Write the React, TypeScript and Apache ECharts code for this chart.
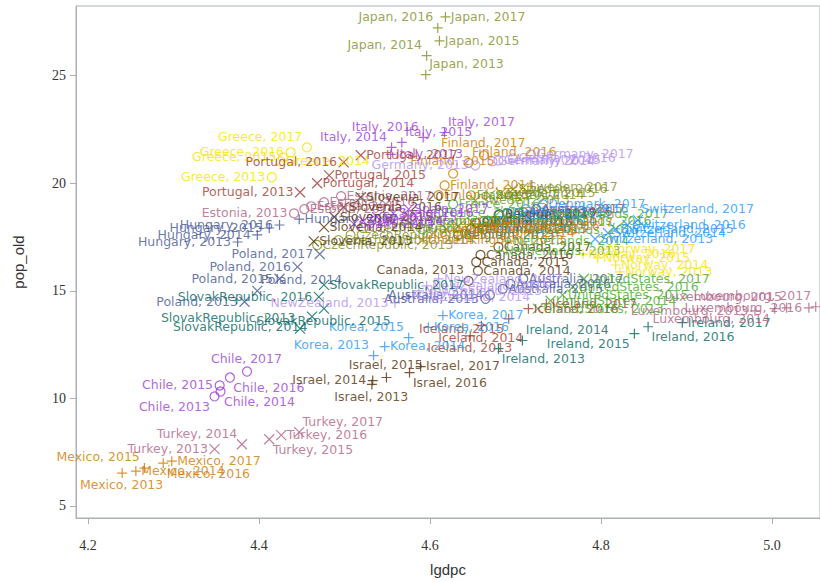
import React, { useEffect, useRef } from "react";
import * as echarts from "echarts";

// Survey years shown for every country
const years = [2013, 2014, 2015, 2016, 2017];

// Countries in the order their group styles are assigned
const countries = [
  "Australia", "Austria", "Belgium", "Canada", "Chile", "CzechRepublic",
  "Denmark", "Estonia", "Finland", "France", "Germany", "Greece",
  "Hungary", "Iceland", "Ireland", "Israel", "Italy", "Japan",
  "Korea", "Luxembourg", "Mexico", "Netherlands", "NewZealand", "Norway",
  "Poland", "Portugal", "SlovakRepublic", "Slovenia", "Spain", "Sweden",
  "Switzerland", "Turkey", "UnitedKingdom", "UnitedStates",
];

// log10 GDP per capita, one row per country (2013..2017)
const lgdpc: number[][] = [
  [4.665, 4.670, 4.685, 4.694, 4.709],
  [4.663, 4.680, 4.690, 4.709, 4.724],
  [4.633, 4.648, 4.654, 4.667, 4.681],
  [4.645, 4.656, 4.654, 4.659, 4.680],
  [4.348, 4.355, 4.354, 4.366, 4.386],
  [4.468, 4.493, 4.507, 4.522, 4.546],
  [4.663, 4.674, 4.691, 4.712, 4.732],
  [4.441, 4.453, 4.461, 4.476, 4.496],
  [4.610, 4.617, 4.627, 4.645, 4.663],
  [4.591, 4.600, 4.610, 4.627, 4.648],
  [4.653, 4.673, 4.680, 4.697, 4.718],
  [4.415, 4.425, 4.428, 4.437, 4.456],
  [4.375, 4.398, 4.412, 4.424, 4.447],
  [4.647, 4.660, 4.692, 4.715, 4.736],
  [4.680, 4.708, 4.839, 4.855, 4.895],
  [4.532, 4.533, 4.549, 4.576, 4.589],
  [4.554, 4.555, 4.567, 4.592, 4.617],
  [4.595, 4.596, 4.611, 4.609, 4.618],
  [4.534, 4.547, 4.575, 4.598, 4.615],
  [4.980, 5.003, 5.017, 5.043, 5.051],
  [4.240, 4.256, 4.266, 4.288, 4.298],
  [4.681, 4.691, 4.703, 4.717, 4.737],
  [4.559, 4.573, 4.587, 4.596, 4.610],
  [4.822, 4.817, 4.796, 4.779, 4.802],
  [4.383, 4.398, 4.424, 4.445, 4.471],
  [4.448, 4.468, 4.482, 4.499, 4.519],
  [4.448, 4.462, 4.476, 4.470, 4.476],
  [4.464, 4.476, 4.488, 4.499, 4.519],
  [4.511, 4.522, 4.538, 4.557, 4.575],
  [4.653, 4.670, 4.683, 4.697, 4.709],
  [4.793, 4.808, 4.817, 4.831, 4.843],
  [4.348, 4.380, 4.412, 4.426, 4.447],
  [4.591, 4.604, 4.619, 4.633, 4.649],
  [4.726, 4.741, 4.755, 4.767, 4.780],
];

// Share of population aged 65 and over (%), same layout as lgdpc
const popOld: number[][] = [
  [14.63, 14.81, 15.09, 15.32, 15.56],
  [18.24, 18.52, 18.61, 18.66, 18.80],
  [17.60, 17.87, 18.15, 18.24, 18.56],
  [15.46, 15.93, 16.34, 16.67, 17.04],
  [10.09, 10.32, 10.60, 10.97, 11.25],
  [17.13, 17.36, 17.60, 17.92, 18.24],
  [17.87, 18.24, 18.61, 18.80, 19.03],
  [18.60, 18.80, 18.93, 19.12, 19.40],
  [19.45, 19.90, 20.45, 20.95, 21.30],
  [17.87, 18.24, 18.61, 19.03, 19.44],
  [20.83, 21.02, 21.06, 21.16, 21.34],
  [20.28, 21.02, 21.20, 21.44, 21.67],
  [17.27, 17.60, 17.92, 18.06, 18.33],
  [12.91, 13.38, 13.70, 14.17, 14.40],
  [12.31, 12.69, 13.01, 13.33, 13.52],
  [10.65, 10.83, 10.97, 11.20, 11.48],
  [21.34, 21.67, 21.90, 22.13, 22.36],
  [25.05, 25.93, 26.62, 27.22, 27.73],
  [11.99, 12.41, 12.82, 13.30, 13.85],
  [14.07, 14.17, 14.21, 14.21, 14.26],
  [6.53, 6.62, 6.76, 6.99, 7.08],
  [16.85, 17.31, 17.82, 18.24, 18.56],
  [14.44, 14.72, 15.00, 15.23, 15.56],
  [15.88, 16.20, 16.53, 16.71, 16.94],
  [14.49, 15.00, 15.56, 16.11, 16.71],
  [19.58, 20.00, 20.37, 20.97, 21.30],
  [13.24, 13.80, 14.17, 14.72, 15.28],
  [17.30, 17.96, 18.43, 18.89, 19.35],
  [18.10, 18.24, 18.43, 18.60, 18.80],
  [19.20, 19.44, 19.54, 19.72, 19.80],
  [17.41, 17.69, 17.87, 18.06, 18.29],
  [7.64, 7.87, 8.10, 8.29, 8.43],
  [17.36, 17.68, 17.87, 18.00, 18.19],
  [14.17, 14.54, 14.81, 15.19, 15.56],
];

const xTicks = [4.2, 4.4, 4.6, 4.8, 5.0];
const yTicks = [5, 10, 15, 20, 25];

// Group colours, cycled every twelve countries
const palette = [
  "#445694", "#A23A2E", "#01665E", "#543005", "#9D3CDB", "#7F8E1F",
  "#2597FA", "#B26084", "#D17800", "#47A82A", "#B38EF3", "#F9E300",
];

const PLUS = "path://M5,0L5,10M0,5L10,5";
const CROSS = "path://M0,0L10,10M10,0L0,10";

// Which side of its marker a data label sits on (default: right)
const labelSide: Record<string, string> = {
  "Japan, 2013": "tr", "Japan, 2014": "tl", "Japan, 2015": "r", "Japan, 2016": "tl", "Japan, 2017": "r",
  "Italy, 2013": "r", "Italy, 2014": "tl", "Italy, 2015": "tr", "Italy, 2016": "tl", "Italy, 2017": "tr",
  "Greece, 2013": "l", "Greece, 2014": "r", "Greece, 2015": "l", "Greece, 2016": "l", "Greece, 2017": "tl",
  "Mexico, 2013": "b", "Mexico, 2014": "r", "Mexico, 2015": "tl", "Mexico, 2016": "br", "Mexico, 2017": "r",
  "Turkey, 2013": "l", "Turkey, 2014": "tl", "Turkey, 2015": "br", "Turkey, 2016": "r", "Turkey, 2017": "tr",
  "Chile, 2013": "bl", "Chile, 2014": "br", "Chile, 2015": "l", "Chile, 2016": "br", "Chile, 2017": "t",
  "Israel, 2013": "b", "Israel, 2014": "l", "Israel, 2015": "t", "Israel, 2016": "br", "Israel, 2017": "r",
  "Korea, 2013": "tl", "Korea, 2014": "r", "Korea, 2015": "tl", "Korea, 2016": "r", "Korea, 2017": "r",
  "Iceland, 2013": "b", "Iceland, 2014": "b", "Iceland, 2015": "bl", "Iceland, 2016": "r", "Iceland, 2017": "r",
  "Ireland, 2013": "br", "Ireland, 2014": "tr", "Ireland, 2015": "bl", "Ireland, 2016": "br", "Ireland, 2017": "r",
  "Luxembourg, 2013": "l", "Luxembourg, 2014": "bl", "Luxembourg, 2015": "tl", "Luxembourg, 2016": "l", "Luxembourg, 2017": "tl",
  "Switzerland, 2017": "tr",
  "Poland, 2013": "l", "Poland, 2014": "tr", "Poland, 2015": "l", "Poland, 2016": "l", "Poland, 2017": "l",
  "SlovakRepublic, 2013": "tl", "SlovakRepublic, 2014": "bl", "SlovakRepublic, 2015": "b", "SlovakRepublic, 2016": "l",
  "Hungary, 2013": "l", "Hungary, 2014": "l", "Hungary, 2015": "l", "Hungary, 2016": "l",
  "Estonia, 2013": "l", "Portugal, 2013": "l", "Portugal, 2016": "l",
  "Germany, 2013": "l", "Canada, 2013": "tl", "Australia, 2013": "l", "Australia, 2014": "l",
  "NewZealand, 2013": "l", "Finland, 2017": "t", "Finland, 2016": "tr", "Finland, 2015": "t",
};

function placement(side: string, size: number) {
  const c = size / 2;
  const d = 6;
  switch (side) {
    case "l": return { position: [c - d, c], align: "right", verticalAlign: "middle" };
    case "t": return { position: [c, c - d], align: "center", verticalAlign: "bottom" };
    case "b": return { position: [c, c + d], align: "center", verticalAlign: "top" };
    case "tr": return { position: [c + 4, c - 4], align: "left", verticalAlign: "bottom" };
    case "tl": return { position: [c - 4, c - 4], align: "right", verticalAlign: "bottom" };
    case "br": return { position: [c + 4, c + 4], align: "left", verticalAlign: "top" };
    case "bl": return { position: [c - 4, c + 4], align: "right", verticalAlign: "top" };
    default: return { position: [c + d, c], align: "left", verticalAlign: "middle" };
  }
}

export default function App() {
  const ref = useRef<HTMLDivElement>(null);

  useEffect(() => {
    if (!ref.current) return;
    const chart = echarts.init(ref.current, undefined, { renderer: "svg" });

    const series = countries.map((country, i) => {
      const color = palette[i % 12];
      const shape = i < 12 ? "circle" : i < 24 ? PLUS : CROSS;
      const size = i < 12 ? 9 : 10;
      return {
        type: "scatter",
        name: country,
        symbol: shape,
        symbolSize: size,
        itemStyle: { color: "rgba(0,0,0,0)", borderColor: color, borderWidth: 1.2 },
        label: {
          show: true,
          formatter: "{b}",
          color,
          fontFamily: "DejaVu Sans",
          fontSize: 12.5,
        },
        emphasis: { disabled: true },
        data: years.map((yr, j) => {
          const name = `${country}, ${yr}`;
          return {
            name,
            value: [lgdpc[i][j], popOld[i][j]],
            label: placement(labelSide[name] || "r", size),
          };
        }),
      };
    });

    chart.setOption({
      animation: false,
      grid: {
        left: 76,
        top: 6,
        right: -3,
        bottom: 62,
        show: true,
        borderColor: "#aab0b8",
        borderWidth: 1,
      },
      xAxis: {
        type: "value",
        min: 4.186,
        max: 5.056,
        name: "lgdpc",
        nameLocation: "middle",
        nameGap: 44,
        nameTextStyle: { fontFamily: "Liberation Sans", fontSize: 15, color: "#333" },
        axisLine: { show: true, lineStyle: { color: "#aab0b8" } },
        axisTick: { show: true, length: 6, customValues: xTicks, lineStyle: { color: "#aab0b8" } },
        axisLabel: {
          customValues: xTicks,
          formatter: (v: number) => v.toFixed(1),
          fontFamily: "Liberation Sans Narrow",
          fontSize: 14,
          color: "#333",
          margin: 20,
        },
        splitLine: { show: false },
      },
      yAxis: {
        type: "value",
        min: 4.44,
        max: 28.24,
        name: "pop_old",
        nameLocation: "middle",
        nameGap: 50,
        nameTextStyle: { fontFamily: "Liberation Sans", fontSize: 15, color: "#333" },
        axisLine: { show: true, lineStyle: { color: "#aab0b8" } },
        axisTick: { show: true, length: 6, customValues: yTicks, lineStyle: { color: "#aab0b8" } },
        axisLabel: {
          customValues: yTicks,
          formatter: (v: number) => String(v),
          fontFamily: "Liberation Sans Narrow",
          fontSize: 14,
          color: "#333",
          margin: 10,
        },
        splitLine: { show: false },
      },
      series,
    });

    return () => chart.dispose();
  }, []);

  return (
    <div
      ref={ref}
      style={{ position: "fixed", left: 0, top: 0, width: 820, height: 582, background: "#fff" }}
    />
  );
}
